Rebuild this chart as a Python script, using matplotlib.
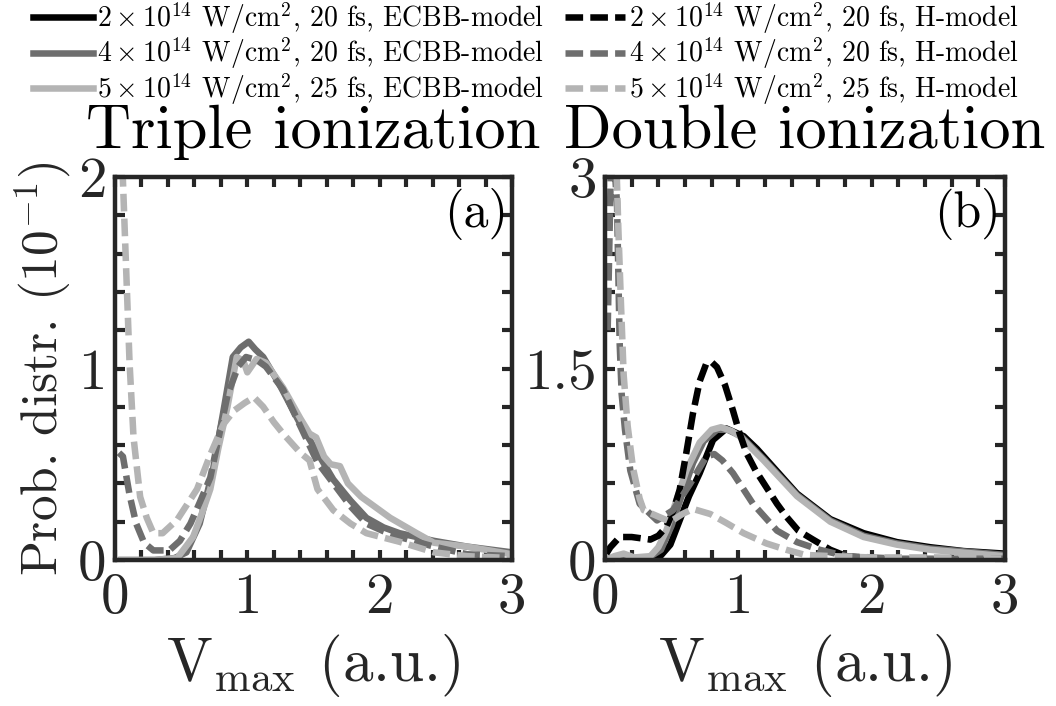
import numpy as np
import matplotlib
matplotlib.use("Agg")
import matplotlib.pyplot as plt

plt.rcParams['font.family'] = 'serif'
plt.rcParams['font.serif'] = ['cmr10']
plt.rcParams['mathtext.fontset'] = 'cm'
plt.rcParams['axes.unicode_minus'] = False

# ---------------- data (units of 10^-1) ----------------
# Triple ionization (a)
tri_ecbb4_x = [0.05, 0.30, 0.45, 0.54, 0.64, 0.74, 0.82, 0.89, 0.95, 1.01, 1.06, 1.12, 1.24, 1.40, 1.53, 1.65, 1.78, 1.90, 2.03, 2.15, 2.28, 2.41, 2.66, 3.0]
tri_ecbb4_y = [0.00, 0.00, 0.01, 0.04, 0.19, 0.47, 0.78, 1.06, 1.11, 1.14, 1.10, 1.06, 0.92, 0.71, 0.56, 0.42, 0.31, 0.22, 0.17, 0.14, 0.12, 0.10, 0.07, 0.04]
tri_ecbb5_x = [0.05, 0.30, 0.47, 0.59, 0.66, 0.72, 0.78, 0.85, 0.92, 0.97, 1.00, 1.07, 1.14, 1.27, 1.40, 1.47, 1.52, 1.58, 1.63, 1.70, 1.76, 1.86, 1.96, 2.08, 2.28, 2.41, 2.66, 3.0]
tri_ecbb5_y = [0.00, 0.00, 0.01, 0.12, 0.25, 0.37, 0.58, 0.80, 1.06, 1.04, 0.98, 1.05, 1.03, 0.90, 0.74, 0.66, 0.64, 0.54, 0.50, 0.49, 0.40, 0.33, 0.28, 0.22, 0.14, 0.09, 0.07, 0.03]
tri_h4_x = [0.03, 0.06, 0.11, 0.16, 0.22, 0.29, 0.41, 0.49, 0.57, 0.64, 0.72, 0.85, 0.93, 0.99, 1.04, 1.08, 1.14, 1.27, 1.40, 1.53, 1.65, 1.78, 1.90, 2.03, 2.15, 2.41, 2.66, 3.0]
tri_h4_y = [0.56, 0.54, 0.34, 0.19, 0.09, 0.05, 0.05, 0.10, 0.19, 0.30, 0.43, 0.86, 1.01, 1.06, 1.05, 1.04, 1.01, 0.89, 0.70, 0.51, 0.40, 0.28, 0.19, 0.15, 0.12, 0.07, 0.03, 0.02]
tri_h5_x = [0.03, 0.06, 0.08, 0.11, 0.14, 0.19, 0.24, 0.29, 0.36, 0.47, 0.62, 0.72, 0.82, 0.90, 0.98, 1.05, 1.12, 1.20, 1.27, 1.40, 1.47, 1.53, 1.65, 1.78, 1.90, 2.15, 2.41, 2.66, 3.0]
tri_h5_y = [2.30, 1.98, 1.60, 1.03, 0.64, 0.33, 0.22, 0.14, 0.14, 0.21, 0.37, 0.55, 0.71, 0.78, 0.82, 0.85, 0.80, 0.72, 0.66, 0.56, 0.52, 0.37, 0.26, 0.19, 0.14, 0.095, 0.04, 0.02, 0.01]

# Double ionization (b)
dbl_ecbb2_x = [0.00, 0.39, 0.49, 0.56, 0.63, 0.71, 0.81, 0.91, 1.04, 1.14, 1.26, 1.44, 1.69, 1.94, 2.19, 2.44, 2.69, 3.0]
dbl_ecbb2_y = [0.00, 0.00, 0.12, 0.31, 0.50, 0.68, 0.94, 1.03, 0.97, 0.87, 0.73, 0.52, 0.32, 0.21, 0.14, 0.10, 0.07, 0.05]
dbl_ecbb4_x = [0.00, 0.30, 0.42, 0.50, 0.58, 0.66, 0.74, 0.84, 0.92, 1.02, 1.19, 1.44, 1.69, 1.94, 2.19, 2.44, 3.0]
dbl_ecbb4_y = [0.00, 0.00, 0.08, 0.27, 0.52, 0.76, 0.93, 1.02, 1.02, 0.97, 0.79, 0.51, 0.31, 0.19, 0.13, 0.09, 0.04]
dbl_ecbb5_x = [0.00, 0.07, 0.14, 0.22, 0.34, 0.40, 0.46, 0.53, 0.61, 0.71, 0.80, 0.87, 0.95, 1.01, 1.19, 1.44, 1.69, 1.94, 2.19, 2.44, 3.0]
dbl_ecbb5_y = [0.00, 0.03, 0.05, 0.02, 0.03, 0.10, 0.23, 0.45, 0.70, 0.92, 1.02, 1.04, 1.01, 0.97, 0.78, 0.50, 0.30, 0.18, 0.12, 0.08, 0.03]
dbl_h2_x = [0.01, 0.04, 0.11, 0.20, 0.34, 0.40, 0.46, 0.51, 0.56, 0.61, 0.66, 0.71, 0.76, 0.80, 0.84, 0.90, 0.96, 1.01, 1.06, 1.13, 1.21, 1.29, 1.36, 1.45, 1.56, 1.69, 1.81, 2.0, 2.5, 3.0]
dbl_h2_y = [0.05, 0.10, 0.18, 0.18, 0.16, 0.19, 0.26, 0.38, 0.55, 0.84, 1.15, 1.40, 1.54, 1.55, 1.51, 1.37, 1.17, 0.99, 0.84, 0.70, 0.57, 0.44, 0.34, 0.23, 0.16, 0.08, 0.03, 0.01, 0.00, 0.00]
dbl_h4_x = [0.02, 0.05, 0.09, 0.11, 0.125, 0.15, 0.19, 0.26, 0.39, 0.51, 0.64, 0.76, 0.82, 0.88, 0.96, 1.11, 1.29, 1.44, 1.61, 1.81, 2.2, 2.6, 3.0]
dbl_h4_y = [1.80, 3.40, 2.80, 1.70, 1.30, 1.02, 0.70, 0.44, 0.31, 0.39, 0.60, 0.81, 0.83, 0.78, 0.68, 0.44, 0.23, 0.14, 0.08, 0.03, 0.01, 0.01, 0.01]
dbl_h5_x = [0.03, 0.08, 0.10, 0.12, 0.14, 0.17, 0.21, 0.26, 0.29, 0.40, 0.49, 0.58, 0.66, 0.79, 0.91, 1.04, 1.21, 1.36, 1.50, 1.7, 2.0, 2.5, 3.0]
dbl_h5_y = [4.00, 3.30, 2.60, 2.00, 1.45, 1.05, 0.72, 0.48, 0.39, 0.34, 0.30, 0.36, 0.40, 0.36, 0.29, 0.21, 0.13, 0.08, 0.04, 0.03, 0.02, 0.02, 0.01]

labels = [r"$2\times10^{14}$ W/cm$^2$, 20 fs, ECBB-model",
          r"$4\times10^{14}$ W/cm$^2$, 20 fs, ECBB-model",
          r"$5\times10^{14}$ W/cm$^2$, 25 fs, ECBB-model",
          r"$2\times10^{14}$ W/cm$^2$, 20 fs, H-model",
          r"$4\times10^{14}$ W/cm$^2$, 20 fs, H-model",
          r"$5\times10^{14}$ W/cm$^2$, 25 fs, H-model"]

c_black = '#000000'
c_dark = '#6e6e6e'
c_light = '#b4b4b4'
spine_c = '#262626'
LW = 4.7
DASH = (0, (2.7, 1.1))

fig = plt.figure(figsize=(10.56, 7.06), dpi=100)
axA = fig.add_axes([115/1056, 1-560/706, 397/1056, 383/706])
axB = fig.add_axes([605/1056, 1-560/706, 400/1056, 383/706])

# panel (a)
axA.plot(tri_ecbb4_x, tri_ecbb4_y, color=c_dark, lw=LW, solid_joinstyle='round')
axA.plot(tri_ecbb5_x, tri_ecbb5_y, color=c_light, lw=LW, solid_joinstyle='round')
axA.plot(tri_h4_x, tri_h4_y, color=c_dark, lw=LW, linestyle=DASH)
axA.plot(tri_h5_x, tri_h5_y, color=c_light, lw=LW, linestyle=DASH)

# panel (b)
hB = []
hB += axB.plot(dbl_ecbb2_x, dbl_ecbb2_y, color=c_black, lw=LW, label=labels[0])
hB += axB.plot(dbl_ecbb4_x, dbl_ecbb4_y, color=c_dark, lw=LW, label=labels[1])
hB += axB.plot(dbl_ecbb5_x, dbl_ecbb5_y, color=c_light, lw=LW, label=labels[2])
hB += axB.plot(dbl_h2_x, dbl_h2_y, color=c_black, lw=LW, linestyle=DASH, label=labels[3])
hB += axB.plot(dbl_h4_x, dbl_h4_y, color=c_dark, lw=LW, linestyle=DASH, label=labels[4])
hB += axB.plot(dbl_h5_x, dbl_h5_y, color=c_light, lw=LW, linestyle=DASH, label=labels[5])

TICKFS = 41
for ax in (axA, axB):
    ax.set_xlim(0, 3)
    ax.set_xticks(np.arange(0, 3.01, 0.2), minor=True)
    ax.set_xticks([0, 1, 2, 3])
    ax.set_xticklabels(['0', '1', '2', '3'])
    for s in ax.spines.values():
        s.set_linewidth(3.2)
        s.set_color(spine_c)
    ax.tick_params(which='both', direction='in', top=True, right=True,
                   length=7, width=3, color=spine_c, labelsize=TICKFS,
                   labelcolor='#262626')
    ax.tick_params(axis='x', pad=9)
    ax.tick_params(axis='y', pad=6)
    ax.set_xlabel(r"V$_{\rm max}$ (a.u.)", fontsize=44, color='#262626', labelpad=6)

axA.set_ylim(0, 2)
axA.set_yticks(np.arange(0, 2.01, 0.2), minor=True)
axA.set_yticks([0, 1, 2])
axA.set_yticklabels(['0', '1', '2'])
axB.set_ylim(0, 3)
axB.set_yticks(np.arange(0, 3.01, 0.3), minor=True)
axB.set_yticks([0, 1.5, 3])
axB.set_yticklabels(['0', '1.5', '3'])

axA.set_ylabel(r"Prob. distr. (10$^{-1}$)", fontsize=37, color='#262626', labelpad=4)

axA.set_title("Triple ionization", fontsize=45, pad=21)
axB.set_title("Double ionization", fontsize=45, pad=21)

axA.text(0.99, 0.97, "(a)", transform=axA.transAxes, ha='right', va='top', fontsize=36)
axB.text(0.99, 0.97, "(b)", transform=axB.transAxes, ha='right', va='top', fontsize=36)

fig.legend(handles=hB, labels=labels, ncol=2, loc='upper left',
           bbox_to_anchor=(33/1056, 1.0), frameon=False, fontsize=20,
           handlelength=2.15, handletextpad=0.15, columnspacing=0.75,
           labelspacing=0.0, borderaxespad=0.0, borderpad=0.0)

fig.savefig("out.png", dpi=100)
